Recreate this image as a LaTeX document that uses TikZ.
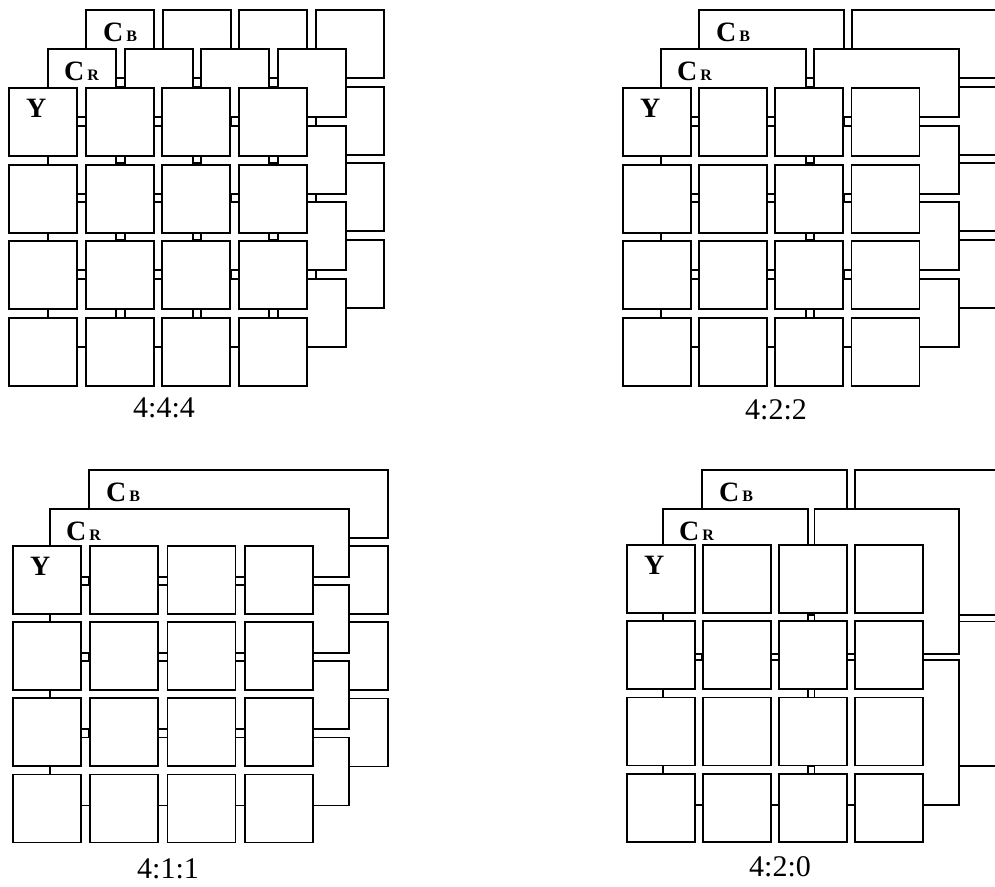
\documentclass[tikz,border=0pt]{standalone}
\usepackage{fontspec}
\setmainfont{Liberation Serif}
\usepackage{tikz}
\usetikzlibrary{positioning}
\tikzset{
  cell/.style={draw=black, fill=white, line width=1.8pt, inner sep=0pt, anchor=north west, minimum width=68pt, minimum height=68pt},
  pairbox/.style={cell, minimum width=144.7pt},
  rowbox/.style={cell, minimum width=298.8pt},
  quadbox/.style={cell, minimum width=144.7pt, minimum height=144.7pt},
  chanlabel/.style={anchor=west, inner sep=0pt, font=\bfseries\fontsize{28}{28}\selectfont},
  ratiolabel/.style={inner sep=0pt, font=\fontsize{30}{30}\selectfont}
}
\newcommand{\sub}[1]{\kern3pt{\fontsize{16}{16}\selectfont #1}}

\begin{document}
\begin{tikzpicture}[x=1pt, y=-1pt]
  \useasboundingbox (0,0) rectangle (995,886);
  \clip (0,0) rectangle (995,886);
  % 4:4:4
  \foreach \r in {0,...,3} \foreach \c in {0,...,3}
    \node[cell] (acb\r\c) at (85+76.7*\c, 9+76.7*\r) {};
  \foreach \r in {0,...,3} \foreach \c in {0,...,3}
    \node[cell] (acr\r\c) at (47+76.7*\c, 48+76.7*\r) {};
  \foreach \r in {0,...,3} \foreach \c in {0,...,3}
    \node[cell] (ay\r\c) at (8+76.7*\c, 87+76.7*\r) {};
  \node[chanlabel] (acblab) at ([shift={(18,23)}]acb00.north west) {C\sub{B}};
  \node[chanlabel] (acrlab) at ([shift={(17,23)}]acr00.north west) {C\sub{R}};
  \node[chanlabel] (aylab) at ([shift={(18,21)}]ay00.north west) {Y};
  \node[ratiolabel] (acap) at (164,408) {4:4:4};
  % 4:2:2
  \foreach \r in {0,...,3} \foreach \c in {0,1}
    \node[pairbox] (bcb\r\c) at (698+153.4*\c, 9+76.7*\r) {};
  \foreach \r in {0,...,3} \foreach \c in {0,1}
    \node[pairbox] (bcr\r\c) at (660+153.4*\c, 48+76.7*\r) {};
  \foreach \r in {0,...,3} \foreach \c in {0,...,3}
    \node[cell] (by\r\c) at (622+76.2*\c, 87+76.7*\r) {};
  \node[chanlabel] (bcblab) at ([shift={(18,23)}]bcb00.north west) {C\sub{B}};
  \node[chanlabel] (bcrlab) at ([shift={(17,23)}]bcr00.north west) {C\sub{R}};
  \node[chanlabel] (bylab) at ([shift={(18,21)}]by00.north west) {Y};
  \node[ratiolabel] (bcap) at (776,410) {4:2:2};
  % 4:1:1
  \foreach \r in {0,...,3}
    \node[rowbox] (ccb\r) at (88, 469+76.2*\r) {};
  \foreach \r in {0,...,3}
    \node[rowbox] (ccr\r) at (49, 508+76.2*\r) {};
  \foreach \r in {0,...,3} \foreach \c in {0,...,3}
    \node[cell] (cy\r\c) at (12+77.3*\c, 545+76.2*\r) {};
  \node[chanlabel] (ccblab) at ([shift={(18,23)}]ccb0.north west) {C\sub{B}};
  \node[chanlabel] (ccrlab) at ([shift={(17,23)}]ccr0.north west) {C\sub{R}};
  \node[chanlabel] (cylab) at ([shift={(18,21)}]cy00.north west) {Y};
  \node[ratiolabel] (ccap) at (168,869) {4:1:1};
  % 4:2:0
  \foreach \r in {0,1} \foreach \c in {0,1}
    \node[quadbox] (dcb\r\c) at (701+152.8*\c, 469+151.5*\r) {};
  \foreach \r in {0,1} \foreach \c in {0,1}
    \node[quadbox] (dcr\r\c) at (662+151.5*\c, 508+151*\r) {};
  \foreach \r in {0,...,3} \foreach \c in {0,...,3}
    \node[cell] (dy\r\c) at (626+76*\c, 544+76.3*\r) {};
  \node[chanlabel] (dcblab) at ([shift={(18,23)}]dcb00.north west) {C\sub{B}};
  \node[chanlabel] (dcrlab) at ([shift={(17,23)}]dcr00.north west) {C\sub{R}};
  \node[chanlabel] (dylab) at ([shift={(18,21)}]dy00.north west) {Y};
  \node[ratiolabel] (dcap) at (780,867) {4:2:0};
\end{tikzpicture}
\end{document}
